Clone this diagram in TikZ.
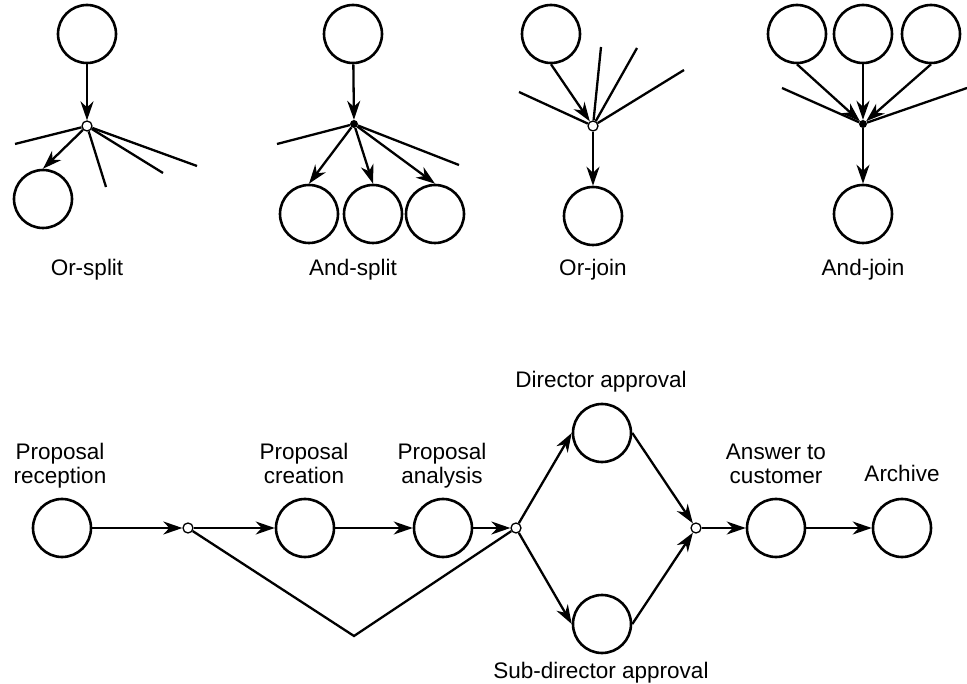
\documentclass[tikz,border=0pt]{standalone}
\usepackage{fontspec}
\setmainfont{Liberation Sans}
\usetikzlibrary{arrows.meta}
\begin{document}
\begin{tikzpicture}[x=1pt,y=-1pt,
 proc/.style={circle,draw,line width=2.6pt,minimum size=58pt,inner sep=0pt},
 orj/.style={circle,draw,fill=white,line width=1.3pt,minimum size=10pt,inner sep=0pt},
 andj/.style={circle,fill=black,minimum size=8pt,inner sep=0pt},
 arr/.style={line width=2.3pt,-{Stealth[length=19pt,width=13pt,inset=6pt]}},
 ln/.style={line width=2.3pt},
 lbl/.style={font=\fontsize{22.5}{24}\selectfont,align=center,inner sep=0pt,anchor=base}]
\useasboundingbox (0,0) rectangle (967,684);
% ---------- Or-split ----------
\node[proc] (a1) at (87,34) {};
\node[orj] (a2) at (87,126) {};
\node[proc] (a3) at (43,199) {};
\coordinate (a4) at (15,144);
\coordinate (a5) at (106,187);
\coordinate (a6) at (163,173);
\coordinate (a7) at (197,166);
\draw[arr] (a1) -- (a2);
\draw[arr] (a2) -- (a3.north);
\draw[ln] (a2) -- (a4);
\draw[ln] (a2) -- (a5);
\draw[ln] (a2) -- (a6);
\draw[ln] (a2) -- (a7);
\node[lbl] (la) at (87,276) {Or-split};
% ---------- And-split ----------
\node[proc] (b1) at (353,34) {};
\node[andj] (b2) at (354,124) {};
\node[proc] (b3) at (309,214) {};
\node[proc] (b4) at (373,214) {};
\node[proc] (b5) at (435,214) {};
\coordinate (b6) at (277,144);
\coordinate (b7) at (459,165);
\draw[arr] (b1) -- (b2);
\draw[arr] (b2) -- (b3.north);
\draw[arr] (b2) -- (b4.north);
\draw[arr] (b2) -- (b5.north);
\draw[ln] (b2) -- (b6);
\draw[ln] (b2) -- (b7);
\node[lbl] (lb) at (353,276) {And-split};
% ---------- Or-join ----------
\node[proc] (c1) at (551,34) {};
\node[orj] (c2) at (593,126) {};
\node[proc] (c3) at (593,216) {};
\coordinate (c4) at (519,92);
\coordinate (c5) at (601,47);
\coordinate (c6) at (637,48);
\coordinate (c7) at (684,70);
\draw[arr] (c1.south) -- (c2);
\draw[arr] (c2) -- (c3);
\draw[ln] (c2) -- (c4);
\draw[ln] (c2) -- (c5);
\draw[ln] (c2) -- (c6);
\draw[ln] (c2) -- (c7);
\node[lbl] (lc) at (593,276) {Or-join};
% ---------- And-join ----------
\node[proc] (d1) at (797,34) {};
\node[proc] (d2) at (863,34) {};
\node[proc] (d3) at (931,34) {};
\node[andj] (d4) at (863,124) {};
\node[proc] (d5) at (863,214) {};
\coordinate (d6) at (782,88);
\coordinate (d7) at (967,88);
\draw[arr] (d1.south) -- (d4);
\draw[arr] (d2.south) -- (d4);
\draw[arr] (d3.south) -- (d4);
\draw[arr] (d4) -- (d5);
\draw[ln] (d4) -- (d6);
\draw[ln] (d4) -- (d7);
\node[lbl] (ld) at (863,276) {And-join};
% ---------- Process ----------
\node[proc] (p1) at (62,528) {};
\node[orj] (j1) at (188,528) {};
\node[proc] (p2) at (305,528) {};
\node[proc] (p3) at (443,528) {};
\node[orj] (j2) at (516,528) {};
\node[proc] (p4) at (602,433) {};
\node[proc] (p5) at (602,624) {};
\node[orj] (j3) at (696,528) {};
\node[proc] (p6) at (776,528) {};
\node[proc] (p7) at (902,528) {};
\coordinate (v) at (354,636);
\draw[arr] (p1) -- (j1);
\draw[arr] (j1) -- (p2);
\draw[arr] (p2) -- (p3);
\draw[arr] (p3) -- (j2);
\draw[ln] (j1) -- (v) -- (j2);
\draw[arr] (j2) -- (p4.west);
\draw[arr] (j2) -- (p5.west);
\draw[arr] (p4.east) -- (j3);
\draw[arr] (p5.east) -- (j3);
\draw[arr] (j3) -- (p6);
\draw[arr] (p6) -- (p7);
\node[lbl] (t1) at (60,483) {Proposal\\reception};
\node[lbl] (t2) at (304,483) {Proposal\\creation};
\node[lbl] (t3) at (442,483) {Proposal\\analysis};
\node[lbl] (t4) at (601,388) {Director approval};
\node[lbl] (t5) at (601,678) {Sub-director approval};
\node[lbl] (t6) at (776,483) {Answer to\\customer};
\node[lbl] (t7) at (902,482) {Archive};
\end{tikzpicture}
\end{document}
